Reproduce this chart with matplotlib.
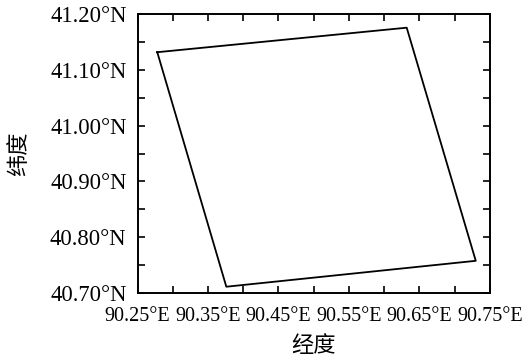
import matplotlib
matplotlib.use("Agg")
import matplotlib.pyplot as plt
from matplotlib.ticker import FixedLocator

# polygon corners (lon, lat), closed
lon = [90.278, 90.632, 90.730, 90.376, 90.278]
lat = [41.132, 41.176, 40.7575, 40.711, 41.132]

xticks = [90.25, 90.35, 90.45, 90.55, 90.65, 90.75]
yticks = [40.70, 40.80, 40.90, 41.00, 41.10, 41.20]
xminor = [90.30, 90.40, 90.50, 90.60, 90.70]
yminor = [40.75, 40.85, 40.95, 41.05, 41.15]

xticklabels = ["%.2f°E" % v for v in xticks]
yticklabels = ["%.2f°N" % v for v in yticks]

serif = ["Liberation Serif", "DejaVu Serif"]
cjk = ["Noto Sans CJK SC", "DejaVu Sans"]

fig = plt.figure(figsize=(5.29, 3.58), dpi=100)
ax = fig.add_axes([0.260, 0.182, 0.666, 0.778])

ax.plot(lon, lat, color="black", lw=1.3)

ax.set_xlim(90.25, 90.75)
ax.set_ylim(40.70, 41.20)

ax.xaxis.set_major_locator(FixedLocator(xticks))
ax.xaxis.set_minor_locator(FixedLocator(xminor))
ax.yaxis.set_major_locator(FixedLocator(yticks))
ax.yaxis.set_minor_locator(FixedLocator(yminor))
ax.set_xticklabels(xticklabels, family=serif, fontsize=14.5)
ax.set_yticklabels(yticklabels, family=serif, fontsize=16.3)

ax.tick_params(which="both", direction="in", length=5, width=1.2,
               top=True, right=True)
ax.tick_params(axis="x", which="major", pad=10)
ax.tick_params(axis="y", which="major", pad=8)

for s in ax.spines.values():
    s.set_linewidth(1.4)

ax.set_xlabel("经度", family=cjk, fontsize=16, labelpad=6)
ax.set_ylabel("纬度", family=cjk, fontsize=16, labelpad=14)

fig.savefig("out.png", dpi=100)
